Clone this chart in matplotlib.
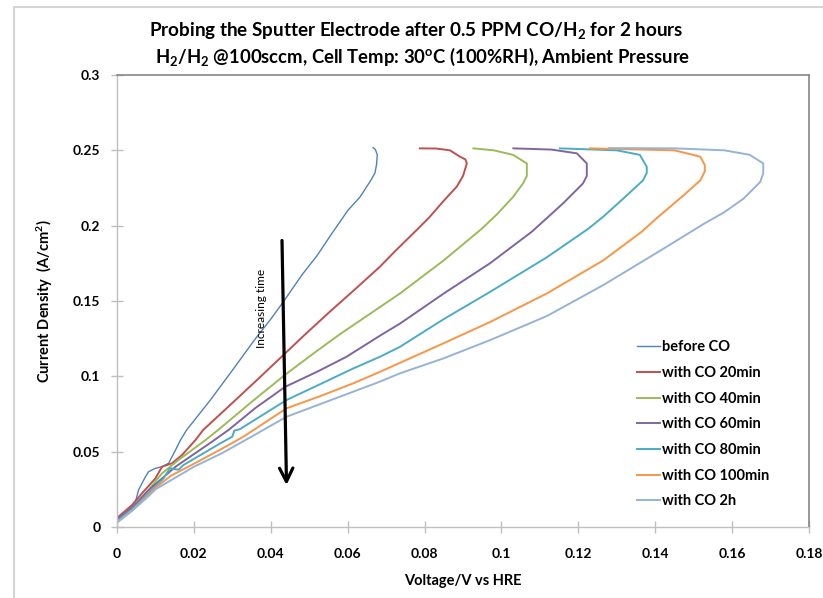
import matplotlib
matplotlib.use("Agg")
import matplotlib.pyplot as plt
from matplotlib.lines import Line2D

plt.rcParams['font.family'] = ['Lato', 'DejaVu Sans']
plt.rcParams['mathtext.fontset'] = 'custom'
plt.rcParams['mathtext.rm'] = 'Lato:bold'
plt.rcParams['mathtext.it'] = 'Lato:bold'
plt.rcParams['mathtext.bf'] = 'Lato:bold'
plt.rcParams['mathtext.default'] = 'rm'

# polarization curves (V vs HRE, A/cm2)
v_before = [0, 0.0020, 0.0039, 0.0048, 0.0056, 0.0074, 0.0082, 0.0100, 0.0117, 0.0134, 0.0150, 0.0165,
            0.0181, 0.0242, 0.0300, 0.0360, 0.0400, 0.0433, 0.0480, 0.0520, 0.0554, 0.0600, 0.0632,
            0.0660, 0.0671, 0.0675, 0.0677, 0.0672, 0.0666]
j_before = [0.004, 0.009, 0.0135, 0.0168, 0.0246, 0.0334, 0.0367, 0.0390, 0.0400, 0.0423, 0.0500, 0.0577,
            0.0644, 0.0840, 0.1040, 0.1250, 0.1380, 0.1496, 0.1670, 0.1800, 0.1930, 0.2100, 0.2190,
            0.2300, 0.2350, 0.2405, 0.2470, 0.2505, 0.2518]

v_20 = [0, 0.0039, 0.0065, 0.0100, 0.0117, 0.0143, 0.0169, 0.0204, 0.0224, 0.0307, 0.0370, 0.0428,
        0.0490, 0.0554, 0.0620, 0.0684, 0.0723, 0.0783, 0.0814, 0.0848, 0.0884, 0.0900, 0.0910,
        0.0906, 0.0892, 0.0866, 0.0830, 0.0788]
j_20 = [0.006, 0.0146, 0.0224, 0.0323, 0.0400, 0.0423, 0.0478, 0.0577, 0.0644, 0.0840, 0.0990, 0.1130,
        0.1280, 0.1430, 0.1580, 0.1728, 0.1830, 0.1980, 0.2060, 0.2160, 0.2260, 0.2330, 0.2413,
        0.2440, 0.2458, 0.2500, 0.2512, 0.2513]

v_40 = [0, 0.0040, 0.0080, 0.0117, 0.0160, 0.0230, 0.0263, 0.0350, 0.0437, 0.0510, 0.0580, 0.0684,
        0.0736, 0.0850, 0.0949, 0.0990, 0.1030, 0.1056, 0.1066, 0.1066, 0.1030, 0.0980, 0.0927]
j_40 = [0.004, 0.0130, 0.0240, 0.0356, 0.0445, 0.0577, 0.0644, 0.0830, 0.1010, 0.1150, 0.1280, 0.1460,
        0.1550, 0.1770, 0.1980, 0.2080, 0.2190, 0.2280, 0.2330, 0.2413, 0.2470, 0.2500, 0.2513]

v_60 = [0, 0.0040, 0.0080, 0.0152, 0.0247, 0.0290, 0.0360, 0.0437, 0.0520, 0.0597, 0.0684, 0.0736,
        0.0850, 0.0970, 0.1079, 0.1118, 0.1161, 0.1212, 0.1222, 0.1222, 0.1196, 0.1130, 0.1031]
j_60 = [0.005, 0.0130, 0.0240, 0.0400, 0.0566, 0.0644, 0.0790, 0.0930, 0.1030, 0.1130, 0.1270, 0.1350,
        0.1550, 0.1750, 0.1960, 0.2050, 0.2150, 0.2280, 0.2330, 0.2413, 0.2480, 0.2505, 0.2513]

v_80 = [0, 0.0040, 0.0080, 0.0120, 0.0138, 0.0160, 0.0172, 0.0265, 0.0300, 0.0305, 0.0320, 0.0441,
        0.0530, 0.0615, 0.0684, 0.0736, 0.0850, 0.0970, 0.1118, 0.1226, 0.1265, 0.1317, 0.1368,
        0.1378, 0.1378, 0.1360, 0.1300, 0.1152]
j_80 = [0.004, 0.0120, 0.0220, 0.0320, 0.0390, 0.0380, 0.0410, 0.0550, 0.0600, 0.0640, 0.0650, 0.0843,
        0.0950, 0.1053, 0.1130, 0.1196, 0.1380, 0.1560, 0.1790, 0.1980, 0.2060, 0.2180, 0.2300,
        0.2350, 0.2390, 0.2470, 0.2500, 0.2513]

v_100 = [0, 0.0040, 0.0080, 0.0100, 0.0140, 0.0200, 0.0273, 0.0329, 0.0441, 0.0530, 0.0615, 0.0684,
         0.0736, 0.0850, 0.0970, 0.1118, 0.1265, 0.1365, 0.1404, 0.1473, 0.1517, 0.1529, 0.1529,
         0.1517, 0.1450, 0.1230]
j_100 = [0.003, 0.0110, 0.0210, 0.0260, 0.0340, 0.0420, 0.0520, 0.0600, 0.0788, 0.0870, 0.0954, 0.1030,
         0.1090, 0.1220, 0.1360, 0.1550, 0.1770, 0.1960, 0.2050, 0.2200, 0.2300, 0.2360, 0.2402,
         0.2458, 0.2500, 0.2513]

v_2h = [0, 0.0040, 0.0080, 0.0100, 0.0200, 0.0273, 0.0350, 0.0441, 0.0580, 0.0684, 0.0736, 0.0850,
        0.0970, 0.1118, 0.1265, 0.1404, 0.1525, 0.1580, 0.1630, 0.1673, 0.1681, 0.1681, 0.1646,
        0.1580, 0.1450, 0.1280]
j_2h = [0.003, 0.0110, 0.0200, 0.0250, 0.0400, 0.0490, 0.0600, 0.0732, 0.0865, 0.0965, 0.1020, 0.1120,
        0.1240, 0.1400, 0.1606, 0.1820, 0.2010, 0.2090, 0.2180, 0.2290, 0.2347, 0.2413, 0.2470,
        0.2500, 0.2513, 0.2515]

labels = ['before CO', 'with CO 20min', 'with CO 40min', 'with CO 60min',
          'with CO 80min', 'with CO 100min', 'with CO 2h']
colors = ['#4F81BD', '#C0504D', '#9BBB59', '#8064A2', '#4BACC6', '#F79646', '#95B3D7']

x_ticks = [0, 0.02, 0.04, 0.06, 0.08, 0.1, 0.12, 0.14, 0.16, 0.18]
x_tick_labels = ['0', '0.02', '0.04', '0.06', '0.08', '0.1', '0.12', '0.14', '0.16', '0.18']
y_ticks = [0, 0.05, 0.1, 0.15, 0.2, 0.25, 0.3]
y_tick_labels = ['0', '0.05', '0.1', '0.15', '0.2', '0.25', '0.3']

curves = [(v_before, j_before), (v_20, j_20), (v_40, j_40), (v_60, j_60),
          (v_80, j_80), (v_100, j_100), (v_2h, j_2h)]

fig = plt.figure(figsize=(8.23, 5.98), dpi=100)
ax = fig.add_axes([0.1422, 0.1187, 0.8408, 0.7559])

for i, (v, j) in enumerate(curves):
    ax.plot(v, j, color=colors[i], lw=1.0 if i == 0 else 1.4, label=labels[i])

ax.set_xlim(0, 0.18)
ax.set_ylim(0, 0.3)
ax.set_xticks(x_ticks)
ax.set_xticklabels(x_tick_labels)
ax.set_yticks(y_ticks)
ax.set_yticklabels(y_tick_labels)
ax.tick_params(direction='inout', length=8, width=1, color='#BFBFBF', labelsize=10)
ax.tick_params(axis='x', pad=11)
ax.tick_params(axis='y', pad=8)
for lab in ax.get_xticklabels() + ax.get_yticklabels():
    lab.set_fontweight('bold')

for s in ['left', 'bottom']:
    ax.spines[s].set_color('#BFBFBF')
    ax.spines[s].set_linewidth(1.0)
for s in ['top', 'right']:
    ax.spines[s].set_color('#868686')
    ax.spines[s].set_linewidth(1.2)

ax.set_xlabel('Voltage/V vs HRE', fontsize=10.5, fontweight='bold', va='top')
ax.xaxis.set_label_coords(0.5, -0.105)
ax.set_ylabel('Current Density  (A/cm$^2$)', fontsize=10.5, fontweight='bold')
ax.yaxis.set_label_coords(-0.09, 0.5)

fig.text(0.5055, 0.949, 'Probing the Sputter Electrode after 0.5 PPM CO/H$_2$ for 2 hours',
         ha='center', va='center', fontsize=13.6, fontweight='bold')
fig.text(0.514, 0.904, 'H$_2$/H$_2$ @100sccm, Cell Temp: 30$^o$C (100%RH), Ambient Pressure',
         ha='center', va='center', fontsize=13.3, fontweight='bold')

# arrow + note
ax.annotate('', xy=(0.0441, 0.026), xytext=(0.0429, 0.192),
            arrowprops=dict(arrowstyle='->', lw=2.3, color='black', mutation_scale=24))
ax.text(0.0375, 0.145, 'Increasing time', rotation=90, ha='center', va='center', fontsize=8.6)

ax.legend(loc='upper left', bbox_to_anchor=(0.751, 0.413), frameon=False,
          prop={'weight': 'bold', 'size': 10.5}, handlelength=1.58, handletextpad=0.15,
          labelspacing=0.8, borderpad=0, borderaxespad=0)

# outer chart-area frame
fig.add_artist(Line2D([14 / 823, 14 / 823, 1], [0, 1 - 7 / 598, 1 - 7 / 598],
                      transform=fig.transFigure, color='#D4D4D4', lw=1.5))

fig.savefig('out.png', dpi=100)
